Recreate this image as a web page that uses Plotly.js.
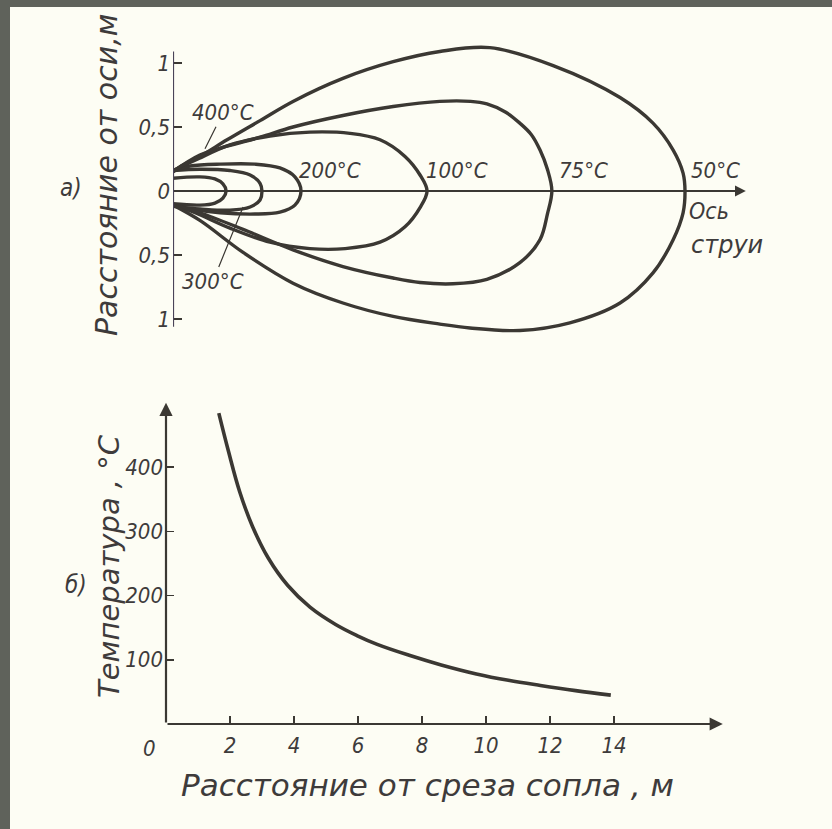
<!DOCTYPE html>
<html>
<head>
<meta charset="utf-8">
<script src="https://cdn.plot.ly/plotly-3.0.1.min.js"></script>
<style>
  html, body { margin: 0; padding: 0; background: #fdfdf4; }
  #chart { width: 832px; height: 829px; }
</style>
</head>
<body>
<div id="chart"></div>
<script>
// а) Isotherms of the jet: distance along the jet axis (x) vs distance from the axis, m (y)
const iso400_x = [0, 0.84, 1.31, 1.56, 1.66, 1.56, 1.31, 0.84, 0];
const iso400_y = [0.10, 0.11, 0.094, 0.055, 0, -0.055, -0.094, -0.11, -0.10];

const iso300_x = [0, 0.84, 1.78, 2.41, 2.72, 2.78, 2.72, 2.41, 1.78, 0.84, 0];
const iso300_y = [0.16, 0.17, 0.16, 0.125, 0.06, 0, -0.07, -0.125, -0.15, -0.14, -0.12];

const iso200_x = [0, 0.53, 1.47, 2.56, 3.34, 3.81, 4.0, 3.81, 3.34, 2.56, 1.47, 0.53, 0];
const iso200_y = [0.16, 0.195, 0.21, 0.21, 0.18, 0.11, 0, -0.11, -0.165, -0.18, -0.17, -0.14, -0.11];

const iso100_x = [0, 0.69, 1.78, 3.03, 4.28, 5.53, 6.47, 7.25, 7.72, 7.94,
                  7.72, 7.25, 6.47, 5.38, 4.28, 3.03, 1.78, 0.69, 0];
const iso100_y = [0.16, 0.24, 0.36, 0.43, 0.46, 0.45, 0.40, 0.27, 0.125, 0,
                  -0.13, -0.28, -0.40, -0.45, -0.45, -0.40, -0.29, -0.17, -0.11];

const iso75_x = [0, 0.84, 1.69, 2.72, 3.75, 5.31, 6.88, 8.34, 9.3, 9.81, 10.4, 10.84, 11.2, 11.47, 11.7, 11.84,
                 11.7, 11.47, 10.84, 9.81, 8.75, 7.72, 6.88, 5.31, 3.75, 2.19, 0.84, 0];
const iso75_y = [0.15, 0.28, 0.35, 0.42, 0.50, 0.59, 0.66, 0.70, 0.70, 0.68, 0.615, 0.53, 0.44, 0.32, 0.17, 0,
                 -0.18, -0.38, -0.56, -0.69, -0.725, -0.715, -0.68, -0.59, -0.46, -0.30, -0.17, -0.11];

const iso50_x = [0, 0.22, 0.84, 1.69, 2.72, 3.75, 5.31, 6.88, 8.34, 9.9, 11.88, 13.97, 15.0, 15.63, 15.94, 16.0,
                 15.94, 15.63, 15.0, 13.97, 12.4, 10.84, 9.28, 8.34, 6.88, 5.31, 3.75, 2.19, 0.84, 0];
const iso50_y = [0.15, 0.19, 0.27, 0.40, 0.55, 0.70, 0.88, 1.01, 1.09, 1.12, 0.98, 0.73, 0.53, 0.32, 0.14, 0,
                 -0.17, -0.38, -0.64, -0.875, -1.03, -1.09, -1.07, -1.04, -0.98, -0.875, -0.72, -0.48, -0.23, -0.11];

const isoLabels = ['400°C', '300°C', '200°C', '100°C', '75°C', '50°C'];
const axisTicksTop = [-1, -0.5, 0, 0.5, 1];
const axisTickTextTop = ['1', '0,5', '0', '0,5', '1'];

// б) Temperature on the jet axis vs distance from the nozzle exit
const dist_m = [1.65, 1.95, 2.3, 2.7, 3.2, 3.8, 4.5, 5.3, 6.0, 6.6, 7.6, 8.6, 9.7, 10.7, 11.7, 12.8, 13.9];
const temp_c = [484, 425, 362, 308, 258, 216, 182, 155, 137, 124, 107, 92, 78, 68, 60, 52, 45];
const distTicks = [2, 4, 6, 8, 10, 12, 14];
const tempTicks = [100, 200, 300, 400];

const INK = '#3b3833';
const TEXT = '#3e3b3b';
const FONT = 'DejaVu Sans Condensed, Liberation Sans Narrow, DejaVu Sans, sans-serif';
const FONT_WIDE = 'DejaVu Sans, sans-serif';
const W = 832, H = 829;

function lbl(size, fam) { return { family: fam || FONT, size: size, color: TEXT, style: 'italic' }; }

const isoSets = [
  [iso400_x, iso400_y], [iso300_x, iso300_y], [iso200_x, iso200_y],
  [iso100_x, iso100_y], [iso75_x, iso75_y], [iso50_x, iso50_y]
];

const traces = isoSets.map((s, i) => ({
  type: 'scatter', mode: 'lines', x: s[0], y: s[1],
  xaxis: 'x', yaxis: 'y', name: isoLabels[i], hoverinfo: 'skip',
  line: { color: INK, width: 3.4, shape: 'spline', smoothing: 1 }
}));

traces.push({
  type: 'scatter', mode: 'lines', x: dist_m, y: temp_c,
  xaxis: 'x2', yaxis: 'y2', name: 'T', hoverinfo: 'skip',
  line: { color: INK, width: 3.6, shape: 'spline', smoothing: 1.1 }
});

// pixel-to-paper helpers for the panel frames
const px = v => v / W;
const py = v => 1 - v / H;

function note(x, y, text, size, extra) {
  return Object.assign({ x: x, y: y, xref: 'x', yref: 'y', text: text, showarrow: false,
    xanchor: 'center', yanchor: 'middle', font: lbl(size) }, extra || {});
}
function paperNote(x, y, text, size, extra) {
  return Object.assign({ x: px(x), y: py(y), xref: 'paper', yref: 'paper', text: text,
    showarrow: false, xanchor: 'center', yanchor: 'middle', font: lbl(size) }, extra || {});
}

const annotations = [
  // contour labels
  note(4.9, 0.16, isoLabels[2], 22),
  note(8.88, 0.16, isoLabels[3], 22),
  note(12.84, 0.16, isoLabels[4], 22),
  note(16.95, 0.16, isoLabels[5], 22),
  note(1.0, 0.33, isoLabels[0], 22, { showarrow: true, arrowhead: 0, arrowwidth: 1.2,
    arrowcolor: INK, ax: 18, ay: -36 }),
  note(2.19, -0.125, isoLabels[1], 22, { showarrow: true, arrowhead: 0, arrowwidth: 1.2,
    arrowcolor: INK, ax: -30, ay: 74 }),
  note(16.75, -0.16, 'Ось', 23),
  note(17.3, -0.42, 'струи', 24, { font: lbl(24, FONT_WIDE) }),

  // jet axis arrow
  { x: 17.9, y: 0, ax: 0, ay: 0, xref: 'x', yref: 'y', axref: 'x', ayref: 'y', text: '',
    showarrow: true, arrowhead: 2, arrowsize: 1.2, arrowwidth: 1.8, arrowcolor: INK },

  // axes arrows of the lower panel
  { x: 0, y: 500, ax: 0, ay: 0, xref: 'x2', yref: 'y2', axref: 'x2', ayref: 'y2', text: '',
    showarrow: true, arrowhead: 2, arrowsize: 1.2, arrowwidth: 2.2, arrowcolor: INK },
  { x: 17.4, y: 0, ax: 0, ay: 0, xref: 'x2', yref: 'y2', axref: 'x2', ayref: 'y2', text: '',
    showarrow: true, arrowhead: 2, arrowsize: 1.2, arrowwidth: 2.2, arrowcolor: INK },
  { x: 0, y: 0, xref: 'x2', yref: 'y2', text: '0', showarrow: false, xanchor: 'right',
    yanchor: 'top', xshift: -8, yshift: -10, font: lbl(22) },

  // panel letters and titles
  paperNote(71, 188, 'а)', 24),
  paperNote(76, 585, 'б)', 24),
  paperNote(106, 175, 'Расстояние от оси,м', 30, { textangle: -90, font: lbl(30, FONT_WIDE) }),
  paperNote(109, 566, 'Температура , °С', 29, { textangle: -90, font: lbl(29, FONT_WIDE) }),
  paperNote(427, 785, 'Расстояние от среза сопла , м', 31, { font: lbl(31, FONT_WIDE) })
];

const shapes = [
  // scanned page edge
  { type: 'rect', xref: 'paper', yref: 'paper', x0: 0, x1: 1, y0: py(7), y1: 1,
    line: { width: 0 }, fillcolor: '#5f625b' },
  { type: 'rect', xref: 'paper', yref: 'paper', x0: 0, x1: px(10), y0: 0, y1: 1,
    line: { width: 0 }, fillcolor: '#5f625b' },
  // vertical axis of the upper panel
  { type: 'line', xref: 'x', yref: 'y', x0: 0, x1: 0, y0: -1.06, y1: 1.09,
    line: { color: '#4a4458', width: 2.2 } }
];

const layout = {
  width: W, height: H,
  margin: { l: 0, r: 0, t: 0, b: 0 },
  paper_bgcolor: '#fdfdf4',
  plot_bgcolor: 'rgba(0,0,0,0)',
  showlegend: false,
  xaxis: {
    domain: [px(173), px(173 + 18.4 * 32)], range: [0, 18.4], anchor: 'y',
    showgrid: false, zeroline: false, showline: false, showticklabels: false, ticks: ''
  },
  yaxis: {
    domain: [py(191 + 1.2 * 128), py(191 - 1.2 * 128)], range: [-1.2, 1.2], anchor: 'x',
    showgrid: false, zeroline: false, showline: false,
    tickvals: axisTicksTop, ticktext: axisTickTextTop,
    ticks: 'inside', ticklen: 9, tickwidth: 1.6, tickcolor: INK,
    tickfont: lbl(22), ticklabelstandoff: 2
  },
  xaxis2: {
    domain: [px(166), px(166 + 18.5 * 32)], range: [0, 18.5], anchor: 'y2',
    showgrid: false, zeroline: false, showline: false,
    tickvals: distTicks, ticks: 'inside', ticklen: 8, tickwidth: 1.6, tickcolor: INK,
    tickfont: lbl(22), ticklabelstandoff: 6
  },
  yaxis2: {
    domain: [py(724), py(724 - 520 * 0.6423)], range: [0, 520], anchor: 'x2',
    showgrid: false, zeroline: false, showline: false,
    tickvals: tempTicks, ticks: 'inside', ticklen: 8, tickwidth: 1.6, tickcolor: INK,
    tickfont: lbl(22), ticklabelstandoff: 2
  },
  annotations: annotations,
  shapes: shapes
};

Plotly.newPlot('chart', traces, layout, { staticPlot: true, displayModeBar: false });
</script>
</body>
</html>
